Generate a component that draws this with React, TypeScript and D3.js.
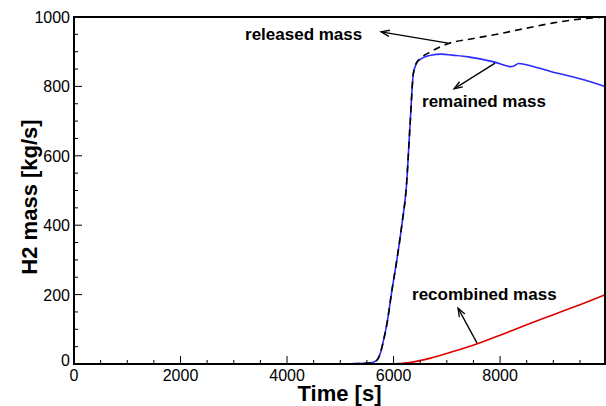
import React from "react";
import * as d3 from "d3";

// time [s], mass [kg/s]
const releasedT = [5000, 5550, 5680, 5750, 5800, 5880, 5970, 6070, 6160, 6240, 6310, 6370, 6430, 6500, 6700, 7000, 7500, 8000, 8500, 9000, 9500, 9970];
const releasedV = [0, 3, 10, 30, 60, 120, 213, 308, 406, 510, 690, 835, 868, 880, 900, 922, 938, 952, 968, 983, 994, 1000];

const remainedT = [5000, 5550, 5680, 5750, 5800, 5880, 5970, 6070, 6160, 6240, 6310, 6370, 6430, 6500, 6700, 6900, 7100, 7400, 7900, 8200, 8250, 8350, 8600, 8950, 9500, 9970];
const remainedV = [0, 3, 10, 30, 60, 120, 213, 308, 406, 510, 690, 835, 866, 878, 890, 893, 890, 885, 870, 857, 858, 866, 858, 843, 822, 800];

const recombinedT = [6000, 6300, 6700, 7100, 7600, 8000, 8500, 9000, 9500, 9970];
const recombinedV = [0, 4, 17, 35, 60, 83, 113, 142, 171, 199];

const xTicks = [0, 2000, 4000, 6000, 8000];
const yTicks = [0, 200, 400, 600, 800, 1000];

// label, text anchor point, arrow tail (on curve), arrow head (near text)
const notes = [
  { label: "released mass", tx: 3211, ty: 934, from: [7023, 925], to: [5765, 957] },
  { label: "remained mass", tx: 6535, ty: 741, from: [7906, 867], to: [7136, 793] },
  { label: "recombined mass", tx: 6347, ty: 184, from: [7568, 60], to: [7211, 161] },
];

const W = 606;
const H = 406;
const left = 74;
const right = 605;
const top = 17;
const bottom = 364;

export default function App() {
  const x = d3.scaleLinear().domain([0, 9970]).range([left, right]);
  const y = d3.scaleLinear().domain([0, 1000]).range([bottom, top]);

  const line = d3
    .line<number[]>()
    .x((d) => x(d[0]))
    .y((d) => y(d[1]))
    .curve(d3.curveMonotoneX);

  const zip = (t: number[], v: number[]) => t.map((d, i) => [d, v[i]]);

  const minorX = d3.range(0, 9970, 500).filter((d) => d % 2000 !== 0);
  const minorY = d3.range(0, 1000, 50).filter((d) => d % 200 !== 0);

  const font = { fontFamily: '"Liberation Sans", Arimo, Arial, Helvetica, sans-serif' };

  const arrow = (from: number[], to: number[], key: string) => {
    const x1 = x(from[0]), y1 = y(from[1]);
    const x2 = x(to[0]), y2 = y(to[1]);
    const a = Math.atan2(y1 - y2, x1 - x2);
    const len = 9, spread = 0.35;
    const p1 = [x2 + len * Math.cos(a + spread), y2 + len * Math.sin(a + spread)];
    const p2 = [x2 + len * Math.cos(a - spread), y2 + len * Math.sin(a - spread)];
    return (
      <g key={key} stroke="#000" strokeWidth={1.3} fill="none">
        <line x1={x1} y1={y1} x2={x2} y2={y2} />
        <polyline points={`${p1[0]},${p1[1]} ${x2},${y2} ${p2[0]},${p2[1]}`} />
      </g>
    );
  };

  return (
    <svg width={W} height={H} style={{ position: "absolute", left: 0, top: 0, background: "#fff", ...font }}>
      {/* curves */}
      <path d={line(zip(remainedT, remainedV)) || ""} fill="none" stroke="#2a2aff" strokeWidth={1.6} />
      <path d={line(zip(releasedT, releasedV)) || ""} fill="none" stroke="#000" strokeWidth={1.6} strokeDasharray="7,5" />
      <path d={line(zip(recombinedT, recombinedV)) || ""} fill="none" stroke="#e00000" strokeWidth={1.6} />

      {/* frame */}
      <rect x={left} y={top} width={right - left} height={bottom - top} fill="none" stroke="#000" strokeWidth={2} />

      {/* ticks */}
      <g stroke="#000" strokeWidth={1}>
        {xTicks.map((d) => (
          <line key={"xt" + d} x1={x(d)} x2={x(d)} y1={bottom} y2={bottom - 8} />
        ))}
        {minorX.map((d) => (
          <line key={"xm" + d} x1={x(d)} x2={x(d)} y1={bottom} y2={bottom - 4} />
        ))}
        {yTicks.map((d) => (
          <line key={"yt" + d} x1={left} x2={left + 8} y1={y(d)} y2={y(d)} />
        ))}
        {minorY.map((d) => (
          <line key={"ym" + d} x1={left} x2={left + 4} y1={y(d)} y2={y(d)} />
        ))}
      </g>

      {/* tick labels */}
      <g style={{ ...font, fontSize: 16 }} fill="#000">
        {xTicks.map((d) => (
          <text key={"xl" + d} x={x(d)} y={bottom + 17} textAnchor="middle">
            {d}
          </text>
        ))}
        {yTicks.map((d) => (
          <text key={"yl" + d} x={left - 4} y={y(d) + (d === 0 ? 2 : 6)} textAnchor="end">
            {d}
          </text>
        ))}
      </g>

      {/* axis titles */}
      <text x={(left + right) / 2} y={401} textAnchor="middle" style={{ ...font, fontWeight: "bold", fontSize: 22 }}>
        Time [s]
      </text>
      <text
        transform="translate(37,197) rotate(-90)"
        textAnchor="middle"
        style={{ ...font, fontWeight: "bold", fontSize: 22 }}
      >
        H2 mass [kg/s]
      </text>

      {/* annotations */}
      {notes.map((n) => (
        <g key={n.label}>
          <text x={x(n.tx)} y={y(n.ty)} style={{ ...font, fontWeight: "bold", fontSize: 17 }}>
            {n.label}
          </text>
          {arrow(n.from, n.to, n.label + "a")}
        </g>
      ))}
    </svg>
  );
}
